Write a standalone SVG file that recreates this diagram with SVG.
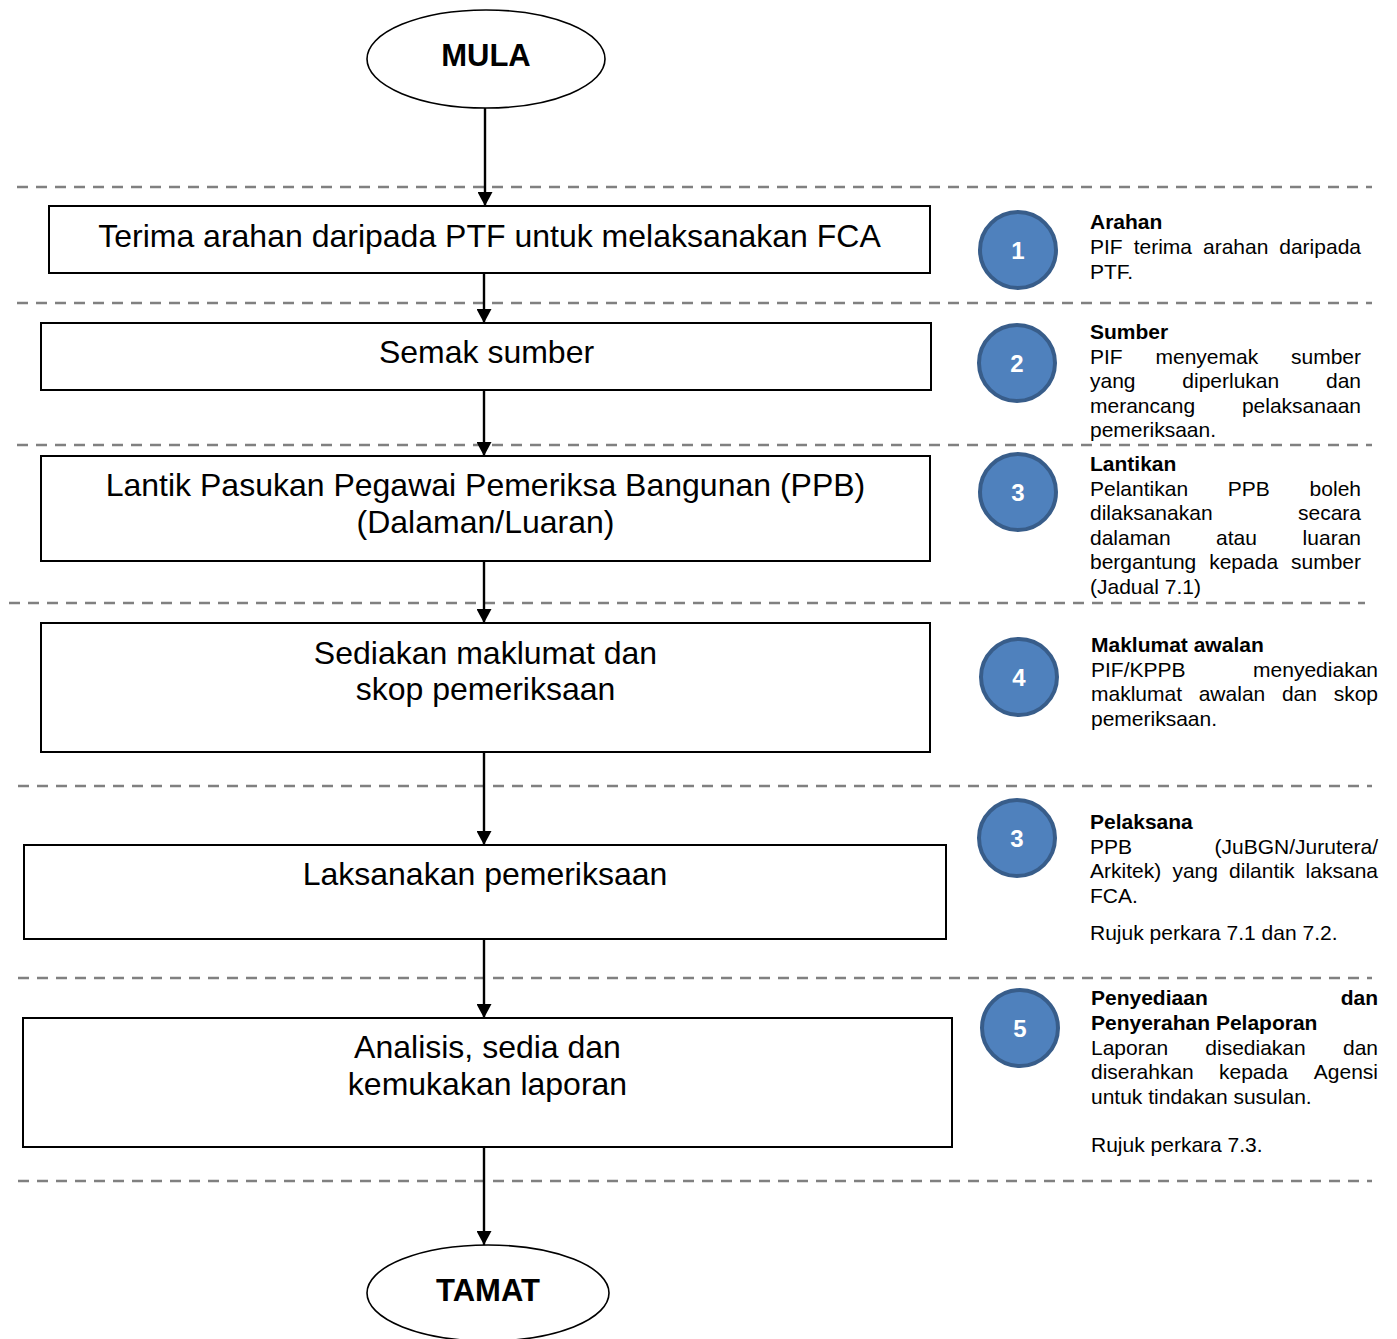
<svg xmlns="http://www.w3.org/2000/svg" width="1397" height="1339" viewBox="0 0 1397 1339">
<style>
.box{fill:#fff;stroke:#000;stroke-width:2}
.term{fill:#fff;stroke:#000;stroke-width:1.6}
.bt{font-family:"Liberation Sans",Arial,sans-serif;font-size:32px;fill:#000;text-anchor:middle}
.tt{font-family:"Liberation Sans",Arial,sans-serif;font-size:31px;font-weight:bold;fill:#000;text-anchor:middle}
.sep{stroke:#808080;stroke-width:2.5;stroke-dasharray:11 8;fill:none}
.conn{stroke:#000;stroke-width:2.4;fill:none;marker-end:url(#ah)}
.circ{fill:#4F81BD;stroke:#385D8A;stroke-width:4}
.num{font-family:"Liberation Sans",Arial,sans-serif;font-size:24px;font-weight:bold;fill:#fff;text-anchor:middle}
.d{font-family:"Liberation Sans",Arial,sans-serif;font-size:21px;fill:#000}
.dh{font-family:"Liberation Sans",Arial,sans-serif;font-size:21px;font-weight:bold;fill:#000}
</style>
<defs>
<marker id="ah" viewBox="0 0 14 15" refX="14" refY="7.5" markerWidth="14" markerHeight="15" markerUnits="userSpaceOnUse" orient="auto">
<path d="M0,0 L14,7.5 L0,15 Z" fill="#000"/>
</marker>
</defs>

<g id="separators">
<line class="sep" x1="17" y1="187" x2="1372" y2="187"/>
<line class="sep" x1="17" y1="303" x2="1372" y2="303"/>
<line class="sep" x1="17" y1="445" x2="1372" y2="445"/>
<line class="sep" x1="9" y1="603" x2="1365" y2="603"/>
<line class="sep" x1="18" y1="786" x2="1372" y2="786"/>
<line class="sep" x1="18" y1="978" x2="1372" y2="978"/>
<line class="sep" x1="18" y1="1181" x2="1372" y2="1181"/>
</g>

<g id="connectors">
<line class="conn" x1="485" y1="108" x2="485" y2="206"/>
<line class="conn" x1="484" y1="273" x2="484" y2="323"/>
<line class="conn" x1="484" y1="390" x2="484" y2="456"/>
<line class="conn" x1="484" y1="561" x2="484" y2="623"/>
<line class="conn" x1="484" y1="752" x2="484" y2="845"/>
<line class="conn" x1="484" y1="939" x2="484" y2="1018"/>
<line class="conn" x1="484" y1="1147" x2="484" y2="1245"/>
</g>

<g id="mula">
<ellipse class="term" cx="486" cy="59" rx="119" ry="49"/>
<text class="tt" x="486" y="66">MULA</text>
</g>

<g id="step1">
<rect class="box" x="49" y="206" width="881" height="67"/>
<text class="bt" x="489.5" y="247">Terima arahan daripada PTF untuk melaksanakan FCA</text>
</g>

<g id="step2">
<rect class="box" x="41" y="323" width="890" height="67"/>
<text class="bt" x="486.5" y="363">Semak sumber</text>
</g>

<g id="step3">
<rect class="box" x="41" y="456" width="889" height="105"/>
<text class="bt" x="485.5" y="496">Lantik Pasukan Pegawai Pemeriksa Bangunan (PPB)</text>
<text class="bt" x="485.5" y="533">(Dalaman/Luaran)</text>
</g>

<g id="step4">
<rect class="box" x="41" y="623" width="889" height="129"/>
<text class="bt" x="485.5" y="664">Sediakan maklumat dan</text>
<text class="bt" x="485.5" y="700">skop pemeriksaan</text>
</g>

<g id="step5">
<rect class="box" x="24" y="845" width="922" height="94"/>
<text class="bt" x="485" y="885">Laksanakan pemeriksaan</text>
</g>

<g id="step6">
<rect class="box" x="23" y="1018" width="929" height="129"/>
<text class="bt" x="487.5" y="1058">Analisis, sedia dan</text>
<text class="bt" x="487.5" y="1095">kemukakan laporan</text>
</g>

<g id="tamat">
<ellipse class="term" cx="488" cy="1293" rx="121" ry="48"/>
<text class="tt" x="488" y="1301">TAMAT</text>
</g>

<g id="note1">
<circle class="circ" cx="1018" cy="250" r="38"/>
<text class="num" x="1018" y="258.5">1</text>
<text class="dh" x="1090" y="229">Arahan</text>
<text class="d" y="254"><tspan x="1090">PIF</tspan><tspan x="1133.7">terima</tspan><tspan x="1203">arahan</tspan><tspan x="1361" text-anchor="end">daripada</tspan></text>
<text class="d" x="1090" y="279">PTF.</text>
</g>

<g id="note2">
<circle class="circ" cx="1017" cy="363" r="38"/>
<text class="num" x="1017" y="371.5">2</text>
<text class="dh" x="1090" y="339">Sumber</text>
<text class="d" y="364"><tspan x="1090">PIF</tspan><tspan x="1155.5">menyemak</tspan><tspan x="1361" text-anchor="end">sumber</tspan></text>
<text class="d" y="388"><tspan x="1090">yang</tspan><tspan x="1182.3">diperlukan</tspan><tspan x="1361" text-anchor="end">dan</tspan></text>
<text class="d" y="413"><tspan x="1090">merancang</tspan><tspan x="1361" text-anchor="end">pelaksanaan</tspan></text>
<text class="d" x="1090" y="437">pemeriksaan.</text>
</g>

<g id="note3">
<circle class="circ" cx="1018" cy="492" r="38"/>
<text class="num" x="1018" y="500.5">3</text>
<text class="dh" x="1090" y="471">Lantikan</text>
<text class="d" y="496"><tspan x="1090">Pelantikan</tspan><tspan x="1227.8">PPB</tspan><tspan x="1361" text-anchor="end">boleh</tspan></text>
<text class="d" y="520"><tspan x="1090">dilaksanakan</tspan><tspan x="1361" text-anchor="end">secara</tspan></text>
<text class="d" y="545"><tspan x="1090">dalaman</tspan><tspan x="1216.1">atau</tspan><tspan x="1361" text-anchor="end">luaran</tspan></text>
<text class="d" y="569"><tspan x="1090">bergantung</tspan><tspan x="1209.2">kepada</tspan><tspan x="1361" text-anchor="end">sumber</tspan></text>
<text class="d" x="1090" y="594">(Jadual 7.1)</text>
</g>

<g id="note4">
<circle class="circ" cx="1019" cy="677" r="38"/>
<text class="num" x="1019" y="685.5">4</text>
<text class="dh" x="1091" y="652">Maklumat awalan</text>
<text class="d" y="677"><tspan x="1091">PIF/KPPB</tspan><tspan x="1378" text-anchor="end">menyediakan</tspan></text>
<text class="d" y="701"><tspan x="1091">maklumat</tspan><tspan x="1198.7">awalan</tspan><tspan x="1281.9">dan</tspan><tspan x="1378" text-anchor="end">skop</tspan></text>
<text class="d" x="1091" y="726">pemeriksaan.</text>
</g>

<g id="note5">
<circle class="circ" cx="1017" cy="838" r="38"/>
<text class="num" x="1017" y="846.5">3</text>
<text class="dh" x="1090" y="829">Pelaksana</text>
<text class="d" y="854"><tspan x="1090">PPB</tspan><tspan x="1378" text-anchor="end">(JuBGN/Jurutera/</tspan></text>
<text class="d" y="878"><tspan x="1090">Arkitek)</tspan><tspan x="1172.4">yang</tspan><tspan x="1229.1">dilantik</tspan><tspan x="1378" text-anchor="end">laksana</tspan></text>
<text class="d" x="1090" y="903">FCA.</text>
<text class="d" x="1090" y="940">Rujuk perkara 7.1 dan 7.2.</text>
</g>

<g id="note6">
<circle class="circ" cx="1020" cy="1028" r="38"/>
<text class="num" x="1020" y="1036.5">5</text>
<text class="dh" y="1005"><tspan x="1091">Penyediaan</tspan><tspan x="1378" text-anchor="end">dan</tspan></text>
<text class="dh" x="1091" y="1030">Penyerahan Pelaporan</text>
<text class="d" y="1055"><tspan x="1091">Laporan</tspan><tspan x="1205.3">disediakan</tspan><tspan x="1378" text-anchor="end">dan</tspan></text>
<text class="d" y="1079"><tspan x="1091">diserahkan</tspan><tspan x="1219">kepada</tspan><tspan x="1378" text-anchor="end">Agensi</tspan></text>
<text class="d" x="1091" y="1104">untuk tindakan susulan.</text>
<text class="d" x="1091" y="1152">Rujuk perkara 7.3.</text>
</g>
</svg>
